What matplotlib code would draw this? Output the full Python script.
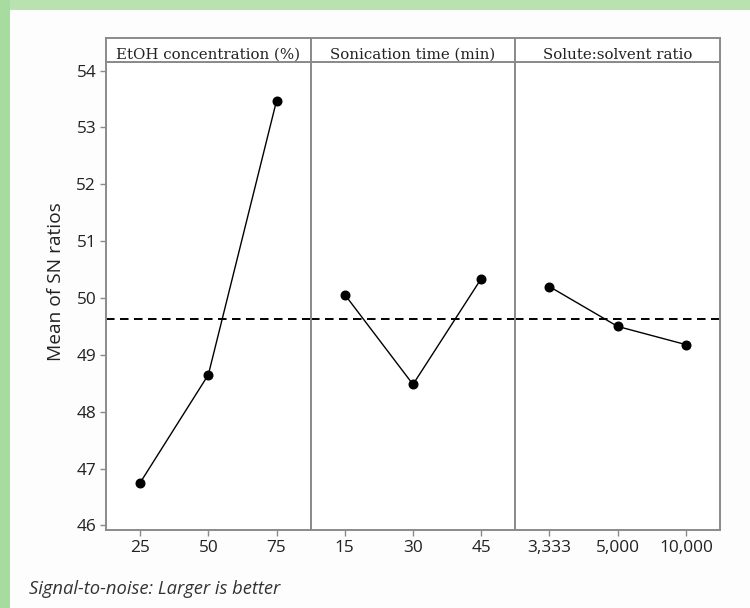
import matplotlib
matplotlib.use("Agg")
import matplotlib.pyplot as plt
from matplotlib.patches import Rectangle

# ---- data ----
factors = ["EtOH concentration (%)", "Sonication time (min)", "Solute:solvent ratio"]
etoh_levels = ["25", "50", "75"]
etoh_sn = [46.75, 48.65, 53.47]
sonic_levels = ["15", "30", "45"]
sonic_sn = [50.06, 48.48, 50.34]
ratio_levels = ["3,333", "5,000", "10,000"]
ratio_sn = [50.20, 49.50, 49.18]
y_ticks = [46, 47, 48, 49, 50, 51, 52, 53, 54]
footnote = "Signal-to-noise: Larger is better"
y_label = "Mean of SN ratios"

levels = [etoh_levels, sonic_levels, ratio_levels]
values = [etoh_sn, sonic_sn, ratio_sn]
all_vals = etoh_sn + sonic_sn + ratio_sn
grand_mean = sum(all_vals) / len(all_vals)

W, H = 750, 608
fig = plt.figure(figsize=(W / 100, H / 100), dpi=100)
fig.patch.set_facecolor("#b8e2b0")
fig.add_artist(Rectangle((0, 0), 10 / W, 1, transform=fig.transFigure,
                         facecolor="#a8dba0", edgecolor="none", zorder=-11))
fig.add_artist(Rectangle((10 / W, 0), 1 - 10 / W, 1 - 10 / H, transform=fig.transFigure,
                         facecolor="#fdfdfd", edgecolor="none", zorder=-10))

left, right = 106 / W, 720 / W
bottom, top = 1 - 530 / H, 1 - 62 / H
strip_top = 1 - 37.5 / H
pw = (right - left) / 3
frame_c = "#8a8a8a"
tick_font = dict(fontfamily="Open Sans", fontsize=12.4, color="#222222")

for i in range(3):
    ax = fig.add_axes([left + i * pw, bottom, pw, top - bottom])
    ax.set_facecolor("white")
    x = list(range(1, len(levels[i]) + 1))
    ax.plot(x, values[i], color="black", lw=1.0, marker="o", ms=6.2, mfc="black", mec="black", zorder=3)
    ax.axhline(grand_mean, color="black", lw=1.4, ls=(0, (4.4, 2.8)), zorder=2)
    ax.set_xlim(0.5, 3.5)
    ax.set_ylim(45.92, 54.15)
    ax.set_xticks(x)
    ax.set_xticklabels(levels[i], **tick_font)
    for sp in ax.spines.values():
        sp.set_color(frame_c)
        sp.set_linewidth(1.4)
    ax.tick_params(axis="x", direction="out", length=4.5, width=1, color=frame_c, pad=3)
    if i == 0:
        ax.set_yticks(y_ticks)
        ax.set_yticklabels([str(t) for t in y_ticks], **tick_font)
        ax.tick_params(axis="y", direction="out", length=4.5, width=1, color=frame_c, pad=2.5)
    else:
        ax.set_yticks([])
    # strip
    sax = fig.add_axes([left + i * pw, top, pw, strip_top - top])
    sax.set_xticks([]); sax.set_yticks([])
    sax.set_facecolor("white")
    for sp in sax.spines.values():
        sp.set_color(frame_c)
        sp.set_linewidth(1.4)
    sax.text(0.5, 0.13, factors[i], ha="center", va="baseline", fontfamily="DejaVu Serif",
             fontsize=10.8, color="#222222", transform=sax.transAxes)

fig.text(61 / W, 1 - 281.5 / H, y_label, rotation=90, rotation_mode="anchor",
         ha="center", va="baseline", fontfamily="Open Sans", fontsize=13.8, color="#222222")

fig.text(29 / W, 1 - 594 / H, footnote, ha="left", va="baseline", fontfamily="Open Sans",
         style="italic", fontsize=13.2, color="#333333")

fig.savefig("out.png", dpi=100, facecolor=fig.get_facecolor())
